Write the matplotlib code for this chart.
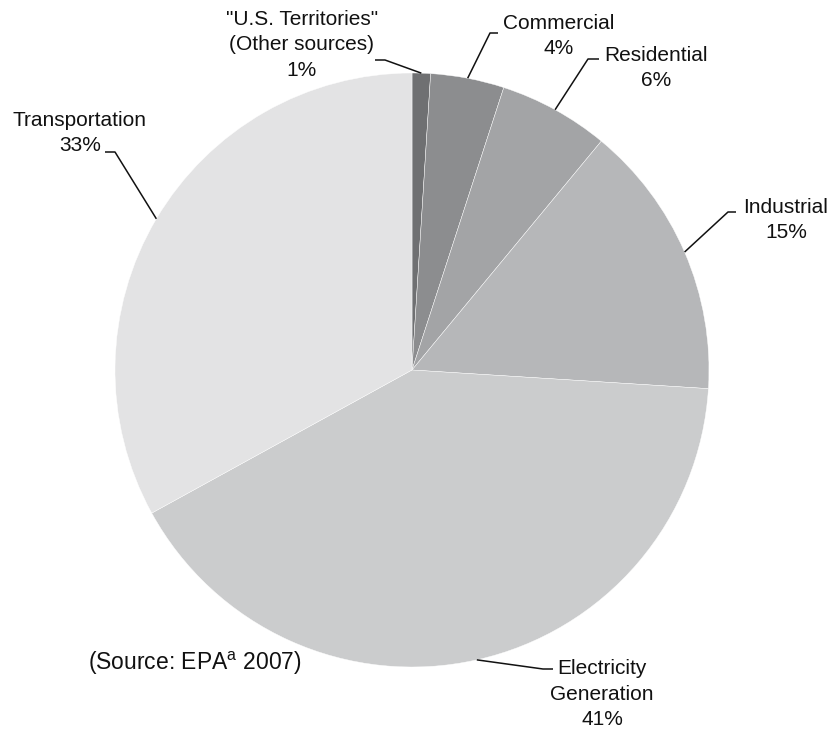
import numpy as np
import matplotlib
matplotlib.use("Agg")
import matplotlib.pyplot as plt

plt.rcParams["font.family"] = ["Liberation Sans", "DejaVu Sans"]
plt.rcParams["mathtext.fontset"] = "custom"
plt.rcParams["mathtext.rm"] = "Liberation Sans"

# ---------------------------------------------------------------
# Data (clockwise from 12 o'clock)
# ---------------------------------------------------------------
sectors = ['"U.S. Territories"\n(Other sources)', "Commercial", "Residential",
           "Industrial", "Electricity\nGeneration", "Transportation"]
shares = [1, 4, 6, 15, 41, 33]
colors = ["#6f7072", "#8c8d8f", "#a3a4a6", "#b6b7b9", "#cbcccd", "#e3e3e4"]

# label layout in pixel coords (x, y from top): label centre, elbow, line end
H = 730
label_pos = [(302, 45), (559, 36), (656, 68), (786, 220), (602, 694), (80, 133)]
elbows = [(385, 60), (490, 33), (588, 59), (728, 212), (543, 669), (115, 152)]
ends = [(375, 60), (498, 33), (599, 59), (736, 212), (553, 669), (105, 152)]

CX, CY, R = 412, H - 370, 297

fig = plt.figure(figsize=(8.28, 7.3), dpi=100)
ax = fig.add_axes([0, 0, 1, 1])

wedges, _ = ax.pie(shares, colors=colors, startangle=90, counterclock=False,
                   center=(CX, CY), radius=R, frame=True,
                   wedgeprops=dict(edgecolor="white", linewidth=0.3))
ax.set_xlim(0, 828)
ax.set_ylim(0, H)
ax.set_aspect("equal")
ax.axis("off")

for w, lab, share, lp, el, en in zip(wedges, sectors, shares, label_pos, elbows, ends):
    mid = np.deg2rad((w.theta1 + w.theta2) / 2)
    px, py = CX + R * np.cos(mid), CY + R * np.sin(mid)
    ax.plot([px, el[0], en[0]], [py, H - el[1], H - en[1]],
            color="#111111", lw=1.1, solid_capstyle="butt")
    ax.text(lp[0], H - lp[1], f"{lab}\n{share}%", ha="center", va="center",
            fontsize=15, linespacing=1.45, color="#111111")

ax.text(88, H - 663, r"(Source: EPA$^{\mathrm{a}}$ 2007)", ha="left", va="center",
        fontsize=16.5, color="#111111")

fig.savefig("out.png", dpi=100)
